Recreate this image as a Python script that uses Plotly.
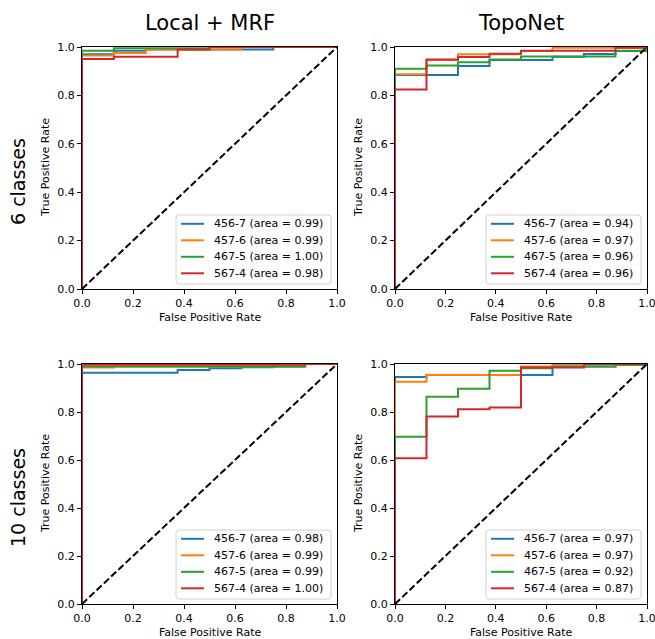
import plotly.graph_objects as go

W, H = 655, 639

col_titles = ["Local + MRF", "TopoNet"]
row_titles = ["6 classes", "10 classes"]
series_names = ["456-7", "457-6", "467-5", "567-4"]
colors = ["#1f77b4", "#ff7f0e", "#2ca02c", "#d62728"]
tick_vals = [0.0, 0.2, 0.4, 0.6, 0.8, 1.0]
tick_text = ["0.0", "0.2", "0.4", "0.6", "0.8", "1.0"]

# Panel: 6 classes, Local + MRF
a_fpr = [[0, 0, 0.125, 0.25, 0.75, 1],
         [0, 0, 0.125, 0.25, 0.625, 1],
         [0, 0, 0.125, 0.5, 1],
         [0, 0, 0.125, 0.375, 0.5, 1]]
a_tpr = [[0, 0.97, 0.985, 0.99, 1, 1],
         [0, 0.965, 0.975, 0.99, 1, 1],
         [0, 0.985, 0.995, 1, 1],
         [0, 0.95, 0.96, 0.99, 1, 1]]
a_auc = [0.99, 0.99, 1.00, 0.98]

# Panel: 6 classes, TopoNet
b_fpr = [[0, 0, 0.25, 0.375, 0.625, 0.75, 0.875, 1],
         [0, 0, 0.125, 0.25, 0.5, 0.625, 1],
         [0, 0, 0.125, 0.25, 0.375, 0.5, 0.875, 1],
         [0, 0, 0.125, 0.25, 0.375, 0.5, 0.875, 1]]
b_tpr = [[0, 0.884, 0.921, 0.946, 0.96, 0.971, 0.983, 1],
         [0, 0.887, 0.946, 0.97, 0.983, 0.997, 1],
         [0, 0.91, 0.924, 0.937, 0.948, 0.961, 0.985, 1],
         [0, 0.824, 0.948, 0.959, 0.972, 0.985, 0.997, 1]]
b_auc = [0.94, 0.97, 0.96, 0.96]

# Panel: 10 classes, Local + MRF
c_fpr = [[0, 0, 0.375, 0.5, 0.625, 0.75, 0.875, 1],
         [0, 0, 0.125, 0.875, 1],
         [0, 0, 0.875, 1],
         [0, 0, 0.875, 1]]
c_tpr = [[0, 0.964, 0.975, 0.982, 0.986, 0.99, 1, 1],
         [0, 0.985, 0.99, 1, 1],
         [0, 0.99, 1, 1],
         [0, 0.997, 1, 1]]
c_auc = [0.98, 0.99, 0.99, 1.00]

# Panel: 10 classes, TopoNet
d_fpr = [[0, 0, 0.125, 0.625, 0.875, 1],
         [0, 0, 0.125, 0.5, 0.625, 1],
         [0, 0, 0.125, 0.25, 0.375, 0.5, 0.625, 0.875, 1],
         [0, 0, 0.125, 0.25, 0.375, 0.5, 0.75, 1]]
d_tpr = [[0, 0.946, 0.954, 0.99, 1, 1],
         [0, 0.926, 0.954, 0.99, 1, 1],
         [0, 0.697, 0.864, 0.897, 0.972, 0.982, 0.99, 0.996, 1],
         [0, 0.607, 0.781, 0.811, 0.819, 0.985, 1, 1]]
d_auc = [0.97, 0.97, 0.92, 0.87]

panels = [(a_fpr, a_tpr, a_auc), (b_fpr, b_tpr, b_auc),
          (c_fpr, c_tpr, c_auc), (d_fpr, d_tpr, d_auc)]

# pixel boxes of the four axes (left, right, top, bottom)
boxes = [(82, 337, 47, 289), (395, 647, 47, 289),
         (82, 337, 364, 604), (395, 647, 364, 604)]

FONT = "DejaVu Sans"


def px(x):
    return x / W


def py(y):
    return 1 - y / H


def rounded_rect(x0, y0, x1, y1, r):
    pts = [f"M{px(x0 + r)},{py(y0)}",
           f"L{px(x1 - r)},{py(y0)}",
           f"Q{px(x1)},{py(y0)} {px(x1)},{py(y0 + r)}",
           f"L{px(x1)},{py(y1 - r)}",
           f"Q{px(x1)},{py(y1)} {px(x1 - r)},{py(y1)}",
           f"L{px(x0 + r)},{py(y1)}",
           f"Q{px(x0)},{py(y1)} {px(x0)},{py(y1 - r)}",
           f"L{px(x0)},{py(y0 + r)}",
           f"Q{px(x0)},{py(y0)} {px(x0 + r)},{py(y0)}"]
    return " ".join(pts) + " Z"


fig = go.Figure()
annotations = []
shapes = []
layout = dict(width=W, height=H, autosize=False, template="none",
              margin=dict(l=0, r=0, t=0, b=0, pad=0, autoexpand=False),
              paper_bgcolor="white", plot_bgcolor="white",
              font=dict(family=FONT, size=11, color="black"),
              showlegend=False)

for i, (fprs, tprs, aucs) in enumerate(panels):
    n = i + 1
    xa = "x" if n == 1 else f"x{n}"
    ya = "y" if n == 1 else f"y{n}"
    for k in range(4):
        fig.add_trace(go.Scatter(
            x=fprs[k], y=tprs[k], mode="lines", line_shape="hv",
            line=dict(color=colors[k], width=2),
            name=f"{series_names[k]} (area = {aucs[k]:.2f})",
            xaxis=xa, yaxis=ya))
    fig.add_trace(go.Scatter(
        x=[0, 1], y=[0, 1], mode="lines",
        line=dict(color="black", width=2, dash="7px,3px"),
        xaxis=xa, yaxis=ya, hoverinfo="skip"))

    l, r, t, b = boxes[i]
    axcommon = dict(range=[0, 1], tickvals=tick_vals, ticktext=tick_text,
                    ticks="outside", ticklen=4, tickwidth=1, tickcolor="black",
                    showline=True, linecolor="black", linewidth=1, mirror=True,
                    showgrid=False, zeroline=False, automargin=False,
                    ticklabeloverflow="allow",
                    tickfont=dict(family=FONT, size=11, color="black"))
    xkey = "xaxis" if n == 1 else f"xaxis{n}"
    ykey = "yaxis" if n == 1 else f"yaxis{n}"
    layout[xkey] = dict(domain=[px(l), px(r)], anchor=ya, **axcommon)
    layout[ykey] = dict(domain=[py(b), py(t)], anchor=xa, **axcommon)

    annotations.append(dict(
        text="False Positive Rate", xref="paper", yref="paper",
        x=px((l + r) / 2), y=py(b + 28), xanchor="center", yanchor="middle",
        showarrow=False, font=dict(family=FONT, size=11, color="black")))
    annotations.append(dict(
        text="True Positive Rate", xref="paper", yref="paper",
        x=px(l - 37), y=py((t + b) / 2), xanchor="center", yanchor="middle",
        textangle=-90, showarrow=False, font=dict(family=FONT, size=11, color="black")))

    # legend (matplotlib style, lower right)
    bx1, by1 = r - 6, b - 5
    bx0, by0 = bx1 - 155, by1 - 69
    shapes.append(dict(type="path", xref="paper", yref="paper",
                       path=rounded_rect(bx0, by0, bx1, by1, 3),
                       fillcolor="rgba(255,255,255,0.8)",
                       line=dict(color="#d0d0d0", width=1), layer="above"))
    for k in range(4):
        yc = b - 15.7 - 16.5 * (3 - k)
        shapes.append(dict(type="line", xref="paper", yref="paper",
                           x0=px(bx0 + 5), x1=px(bx0 + 28), y0=py(yc), y1=py(yc),
                           line=dict(color=colors[k], width=2), layer="above"))
        annotations.append(dict(
            text=f"{series_names[k]} (area = {aucs[k]:.2f})",
            xref="paper", yref="paper", x=px(bx0 + 36), y=py(yc),
            xanchor="left", yanchor="middle", showarrow=False,
            font=dict(family=FONT, size=11, color="black")))

for j, txt in enumerate(col_titles):
    l, r, t, b = boxes[j]
    annotations.append(dict(
        text=txt, xref="paper", yref="paper", x=px((l + r) / 2), y=py(23),
        xanchor="center", yanchor="middle", showarrow=False,
        font=dict(family=FONT, size=21, color="black")))

for j, txt in enumerate(row_titles):
    l, r, t, b = boxes[2 * j]
    annotations.append(dict(
        text=txt, xref="paper", yref="paper", x=px(18), y=py((t + b) / 2 + 14),
        xanchor="center", yanchor="middle", textangle=-90, showarrow=False,
        font=dict(family=FONT, size=19, color="black")))

layout["annotations"] = annotations
layout["shapes"] = shapes
fig.update_layout(**layout)
fig.write_html("out.html", config={"displayModeBar": False},
               post_script="document.body.style.margin='0';document.body.style.overflow='hidden';")
